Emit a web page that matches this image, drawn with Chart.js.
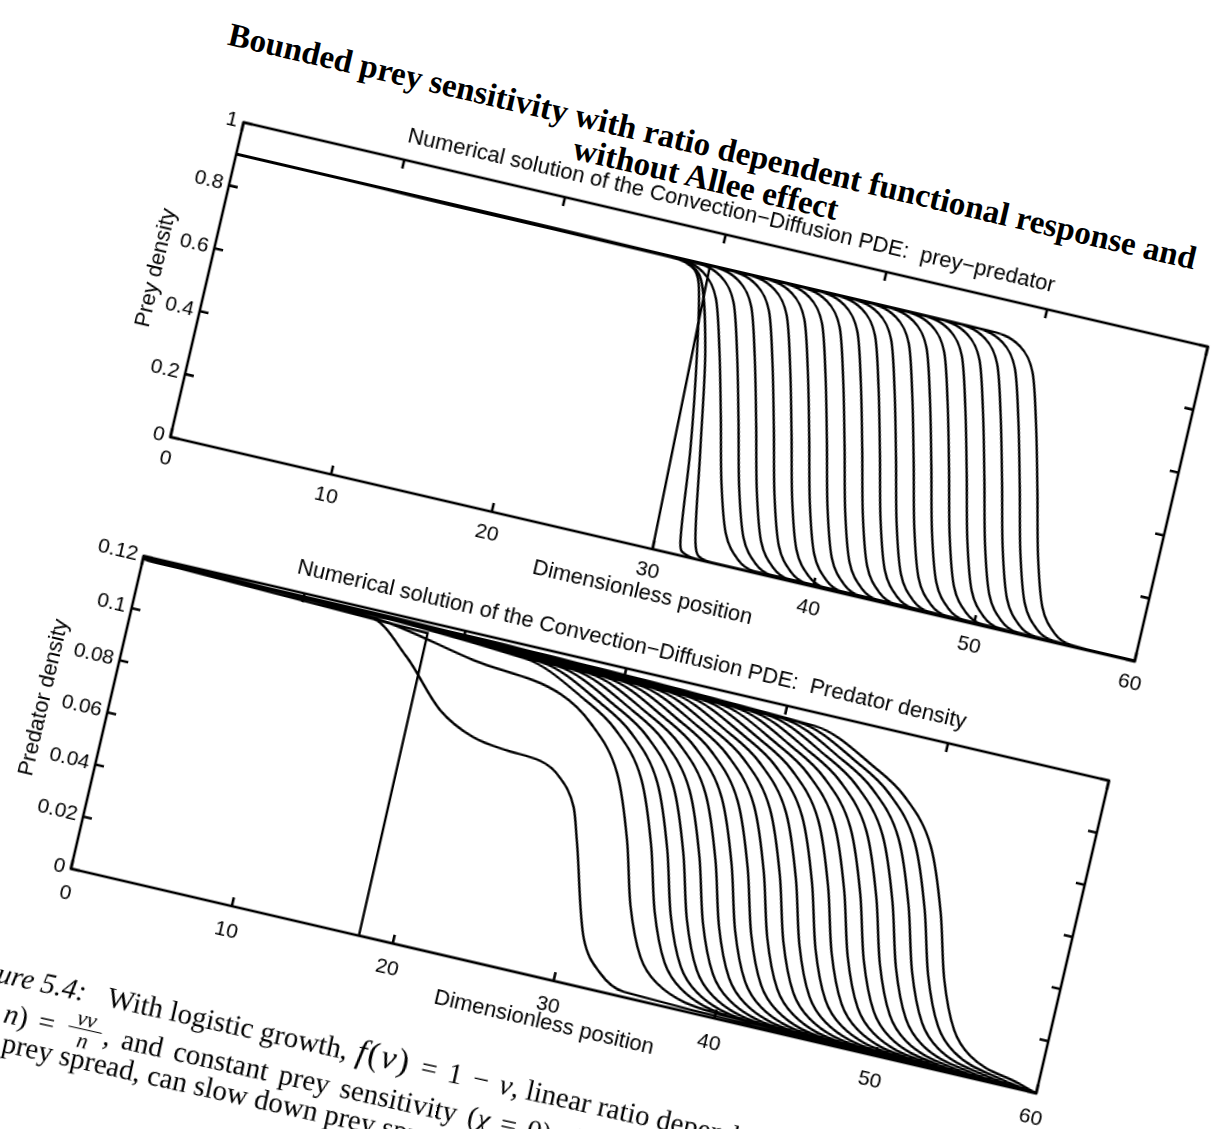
<!DOCTYPE html>
<html>
<head>
<meta charset="utf-8">
<title>Bounded prey sensitivity</title>
<script src="https://cdn.jsdelivr.net/npm/chart.js@4.4.1/dist/chart.umd.min.js"></script>
<style>
  html, body { margin: 0; padding: 0; width: 1215px; height: 1129px; overflow: hidden; background: #fff; }
  #page { position: absolute; left: 0; top: 0; width: 1300px; height: 1200px; transform-origin: 0 0; transform: rotate(13.1deg); }
  #page canvas { position: absolute; }
  .suptitle { position: absolute; width: 1400px; text-align: center; white-space: nowrap; color: #000;
              font: bold 33px/33px "Liberation Serif", "Times New Roman", serif; }
  #captionBox { position: absolute; left: 0; top: 0; width: 0; height: 0; transform-origin: 332px 955px; transform: rotate(-0.6deg); }
  .caption { position: absolute; white-space: nowrap; color: #000; font: 29px/34px "Liberation Serif", "Times New Roman", serif; }
  .caption .fv { letter-spacing: 2px; font-size: 34px; margin-left: 9px; }
  .caption .op { margin: 0 11px; }
  .caption.wide { word-spacing: 4px; }
  .frac { display: inline-block; vertical-align: -8px; text-align: center; font-size: 22px; line-height: 21px; margin: 0 3px; word-spacing: 0; }
  .frac span { display: block; padding: 0 7px; }
  .frac .den { border-top: 1.5px solid #000; }
</style>
</head>
<body>
<div id="page">
  <div class="suptitle" style="left:27px; top:-35px;">Bounded prey sensitivity with ratio dependent functional response and</div>
  <div class="suptitle" style="left:28px; top:-2px;">without Allee effect</div>
  <canvas id="preyChart"></canvas>
  <canvas id="predatorChart"></canvas>
  <div id="captionBox">
    <div class="caption" style="left:178px; top:928px;"><i>Figure 5.4:</i><span style="margin-left:22px">With logistic growth,<span class="fv"><i>f</i>(<i>v</i>)</span><span class="op">=</span>1<span class="op">&minus;</span><i>v</i>, linear ratio dependent functional response</span></div>
    <div class="caption wide" style="left:178px; top:962px;"><i>g</i>(<i>v</i>, <i>n</i>)<span class="op">=</span><span class="frac"><span><i>&nu;v</i></span><span class="den"><i>n</i></span></span>, and constant prey sensitivity (<i>&chi;</i><span class="op">=</span>0), the predator</div>
    <div class="caption" style="left:238px; top:996px;">prey spread, can slow down prey spread.</div>
  </div>
</div>
<script>
// axis ticks
const positionTicks = [0, 10, 20, 30, 40, 50, 60];
const preyTicks = [0, 0.2, 0.4, 0.6, 0.8, 1];
const predatorTicks = [0, 0.02, 0.04, 0.06, 0.08, 0.1, 0.12];

// prey density snapshots
const preyStart = 0.9;
const preyInitial = [[0, 0.9], [29.5, 0.893], [30, 0], [60, 0]];
const preyEarly = [
  [[0, 0.9], [26.5, 0.895], [28.45, 0.879], [29.07, 0.834], [29.9, 0.632], [30.87, 0.326], [31.56, 0.038], [31.9, 0.01], [33, 0], [60, 0]],
  [[0, 0.9], [27, 0.895], [28.91, 0.865], [30.38, 0.638], [31.46, 0.333], [32.45, 0.049], [32.83, 0.011], [34, 0], [60, 0]]
];
// position of each later front at these density levels
const preyLevels = [0.895, 0.87, 0.8, 0.65, 0.45, 0.25, 0.1, 0.03, 0.005];
const preyFronts = [
  [27.0, 29.2, 30.3, 31.2, 32.2, 33.15, 34.1, 35.15, 36.3],
  [28.1, 30.3, 31.4, 32.3, 33.3, 34.25, 35.2, 36.25, 37.4],
  [29.2, 31.4, 32.5, 33.4, 34.4, 35.35, 36.3, 37.35, 38.5],
  [30.3, 32.5, 33.6, 34.5, 35.5, 36.45, 37.4, 38.45, 39.6],
  [31.4, 33.6, 34.7, 35.6, 36.6, 37.55, 38.5, 39.55, 40.7],
  [32.5, 34.7, 35.8, 36.7, 37.7, 38.65, 39.6, 40.65, 41.8],
  [33.6, 35.8, 36.9, 37.8, 38.8, 39.75, 40.7, 41.75, 42.9],
  [34.7, 36.9, 38.0, 38.9, 39.9, 40.85, 41.8, 42.85, 44.0],
  [35.8, 38.0, 39.1, 40.0, 41.0, 41.95, 42.9, 43.95, 45.1],
  [36.9, 39.1, 40.2, 41.1, 42.1, 43.05, 44.0, 45.05, 46.2],
  [37.9, 40.1, 41.2, 42.1, 43.1, 44.05, 45.0, 46.05, 47.2],
  [39.0, 41.2, 42.3, 43.2, 44.2, 45.15, 46.1, 47.15, 48.3],
  [40.1, 42.3, 43.4, 44.3, 45.3, 46.25, 47.2, 48.25, 49.4],
  [41.2, 43.4, 44.5, 45.4, 46.4, 47.35, 48.3, 49.35, 50.5],
  [42.3, 44.5, 45.6, 46.5, 47.5, 48.45, 49.4, 50.45, 51.6],
  [43.4, 45.6, 46.7, 47.6, 48.6, 49.55, 50.5, 51.55, 52.7],
  [44.5, 46.7, 47.8, 48.7, 49.7, 50.65, 51.6, 52.65, 53.8],
  [45.6, 47.8, 48.9, 49.8, 50.8, 51.75, 52.7, 53.75, 54.9],
  [46.7, 48.9, 50.0, 50.9, 51.9, 52.85, 53.8, 54.85, 56.0]
];

// predator density snapshots
const predatorStart = 0.119;
const predatorInitial = [[0, 0.119], [17.8, 0.116], [17.9, 0], [60, 0]];
const predatorEarly = [
  [[0, 0.119], [14.2, 0.117], [16.9, 0.1055], [19.6, 0.089], [21.9, 0.082], [24.1, 0.08], [26.2, 0.079], [27.5, 0.075],
   [28.8, 0.065], [29.45, 0.053], [31.2, 0.018], [32.6, 0.007], [34.3, 0.002], [60, 0]],
  [[0, 0.119], [14.45, 0.117], [20.9, 0.11], [26.5, 0.105], [28.65, 0.097], [30.9, 0.081], [32.4, 0.0575], [33.5, 0.034],
   [34.8, 0.016], [36.1, 0.008], [40, 0.002], [60, 0]]
];
const predatorLevels = [0.115, 0.105, 0.097, 0.081, 0.0575, 0.034, 0.016, 0.008, 0.002];
const predatorFronts = [
  [23.9, 28.0, 30.15, 32.4, 33.9, 35.0, 36.3, 37.6, 40.9],
  [24.9, 29.0, 31.15, 33.4, 34.9, 36.0, 37.3, 38.6, 41.9],
  [25.9, 30.0, 32.15, 34.4, 35.9, 37.0, 38.3, 39.6, 42.9],
  [26.9, 31.0, 33.15, 35.4, 36.9, 38.0, 39.3, 40.6, 43.9],
  [27.9, 32.0, 34.15, 36.4, 37.9, 39.0, 40.3, 41.6, 44.9],
  [28.9, 33.0, 35.15, 37.4, 38.9, 40.0, 41.3, 42.6, 45.9],
  [29.9, 34.0, 36.15, 38.4, 39.9, 41.0, 42.3, 43.6, 46.9],
  [30.9, 35.0, 37.15, 39.4, 40.9, 42.0, 43.3, 44.6, 47.9],
  [31.9, 36.0, 38.15, 40.4, 41.9, 43.0, 44.3, 45.6, 48.9],
  [32.9, 37.0, 39.15, 41.4, 42.9, 44.0, 45.3, 46.6, 49.9],
  [33.9, 38.0, 40.15, 42.4, 43.9, 45.0, 46.3, 47.6, 50.9],
  [34.9, 39.0, 41.15, 43.4, 44.9, 46.0, 47.3, 48.6, 51.9],
  [35.9, 40.0, 42.15, 44.4, 45.9, 47.0, 48.3, 49.6, 52.9],
  [36.9, 41.0, 43.15, 45.4, 46.9, 48.0, 49.3, 50.6, 53.9],
  [37.9, 42.0, 44.15, 46.4, 47.9, 49.0, 50.3, 51.6, 54.9],
  [38.9, 43.0, 45.15, 47.4, 48.9, 50.0, 51.3, 52.6, 55.9],
  [39.9, 44.0, 46.15, 48.4, 49.9, 51.0, 52.3, 53.6, 56.9],
  [40.9, 45.0, 47.15, 49.4, 50.9, 52.0, 53.3, 54.6, 57.9],
  [41.9, 46.0, 48.15, 50.4, 51.9, 53.0, 54.3, 55.6, 58.9]
];

const SANS = '"Liberation Sans", Arial, Helvetica, sans-serif';
const AXIS_W = 100, AXIS_H = 70, TITLE_H = 57, PAD_R = 30, PAD_B = 10;

// plot areas in page coordinates (before the page rotation)
const preyArea = { left: 265, top: 64, w: 990, h: 323 };
const predatorArea = { left: 266, top: 509, w: 991, h: 321 };

const toPoints = pairs => pairs.map(([x, y]) => ({ x, y }));

function frontCurve(start, xs, levels) {
  return [{ x: 0, y: start }, ...xs.map((x, k) => ({ x, y: levels[k] })), { x: 60, y: 0 }];
}

function lineSet(points, smooth) {
  return {
    data: points,
    borderColor: '#000',
    borderWidth: 2.4,
    pointRadius: 0,
    fill: false,
    tension: 0,
    cubicInterpolationMode: smooth ? 'monotone' : 'default'
  };
}

// MATLAB style box with inward ticks on all four sides
const boxFrame = {
  id: 'boxFrame',
  afterDatasetsDraw(chart, args, opts) {
    const { ctx, chartArea: a, scales: { x, y } } = chart;
    const len = opts.tick || 9;
    ctx.save();
    ctx.strokeStyle = '#000';
    ctx.lineWidth = 2.6;
    ctx.strokeRect(a.left, a.top, a.width, a.height);
    ctx.beginPath();
    x.ticks.forEach(t => {
      const px = x.getPixelForValue(t.value);
      ctx.moveTo(px, a.bottom); ctx.lineTo(px, a.bottom - len);
      ctx.moveTo(px, a.top); ctx.lineTo(px, a.top + len);
    });
    y.ticks.forEach(t => {
      const py = y.getPixelForValue(t.value);
      ctx.moveTo(a.left, py); ctx.lineTo(a.left + len, py);
      ctx.moveTo(a.right, py); ctx.lineTo(a.right - len, py);
    });
    ctx.stroke();
    ctx.restore();
  }
};

function buildPanel(id, area, o) {
  const canvas = document.getElementById(id);
  canvas.width = AXIS_W + area.w + PAD_R;
  canvas.height = TITLE_H + area.h + AXIS_H + PAD_B;
  canvas.style.left = (area.left - AXIS_W) + 'px';
  canvas.style.top = (area.top - TITLE_H) + 'px';

  return new Chart(canvas, {
    type: 'line',
    data: { datasets: o.datasets },
    plugins: [boxFrame],
    options: {
      responsive: false,
      animation: false,
      events: [],
      layout: { padding: { left: 0, right: PAD_R, top: 0, bottom: PAD_B } },
      plugins: {
        legend: { display: false },
        tooltip: { enabled: false },
        title: {
          display: true,
          fullSize: false,
          text: o.title,
          color: '#000',
          font: { family: SANS, size: 22, weight: 'normal' },
          padding: { top: 20, bottom: 10.6 }
        },
        boxFrame: { tick: 9 }
      },
      scales: {
        x: {
          type: 'linear',
          min: 0,
          max: 60,
          afterBuildTicks: s => { s.ticks = positionTicks.map(v => ({ value: v })); },
          afterFit: s => { s.height = AXIS_H; s.paddingLeft = 0; s.paddingRight = 0; },
          grid: { display: false, drawTicks: false },
          border: { display: false },
          ticks: { color: '#000', font: { family: SANS, size: 21 }, padding: o.xTickPad, maxRotation: 0, autoSkip: false, callback: v => String(v) },
          title: { display: true, text: 'Dimensionless position', color: '#000', font: { family: SANS, size: 22 }, padding: { top: 0, bottom: o.xTitlePad } }
        },
        y: {
          type: 'linear',
          min: 0,
          max: o.yMax,
          afterBuildTicks: s => { s.ticks = o.yTicks.map(v => ({ value: v })); },
          afterFit: s => { s.width = AXIS_W; s.paddingTop = 0; s.paddingBottom = 0; },
          grid: { display: false, drawTicks: false },
          border: { display: false },
          ticks: { color: '#000', font: { family: SANS, size: 21 }, padding: 6, autoSkip: false, callback: v => String(v) },
          title: { display: true, text: o.yLabel, color: '#000', font: { family: SANS, size: 22 }, padding: { top: o.yTitlePad, bottom: 0 } }
        }
      }
    }
  });
}

const preySets = [
  lineSet(toPoints(preyInitial), false),
  ...preyEarly.map(c => lineSet(toPoints(c), true)),
  ...preyFronts.map(xs => lineSet(frontCurve(preyStart, xs, preyLevels), true))
];

const predatorSets = [
  lineSet(toPoints(predatorInitial), false),
  ...predatorEarly.map(c => lineSet(toPoints(c), true)),
  ...predatorFronts.map(xs => lineSet(frontCurve(predatorStart, xs, predatorLevels), true))
];

buildPanel('preyChart', preyArea, {
  title: 'Numerical solution of the Convection\u2212Diffusion PDE:  prey\u2212predator',
  yLabel: 'Prey density',
  yTicks: preyTicks,
  yMax: 1,
  yTitlePad: 35,
  xTitlePad: 12,
  xTickPad: 10,
  datasets: preySets
});

buildPanel('predatorChart', predatorArea, {
  title: 'Numerical solution of the Convection\u2212Diffusion PDE:  Predator density',
  yLabel: 'Predator density',
  yTicks: predatorTicks,
  yMax: 0.12,
  yTitlePad: 22,
  xTitlePad: 14,
  xTickPad: 13,
  datasets: predatorSets
});
</script>
</body>
</html>
